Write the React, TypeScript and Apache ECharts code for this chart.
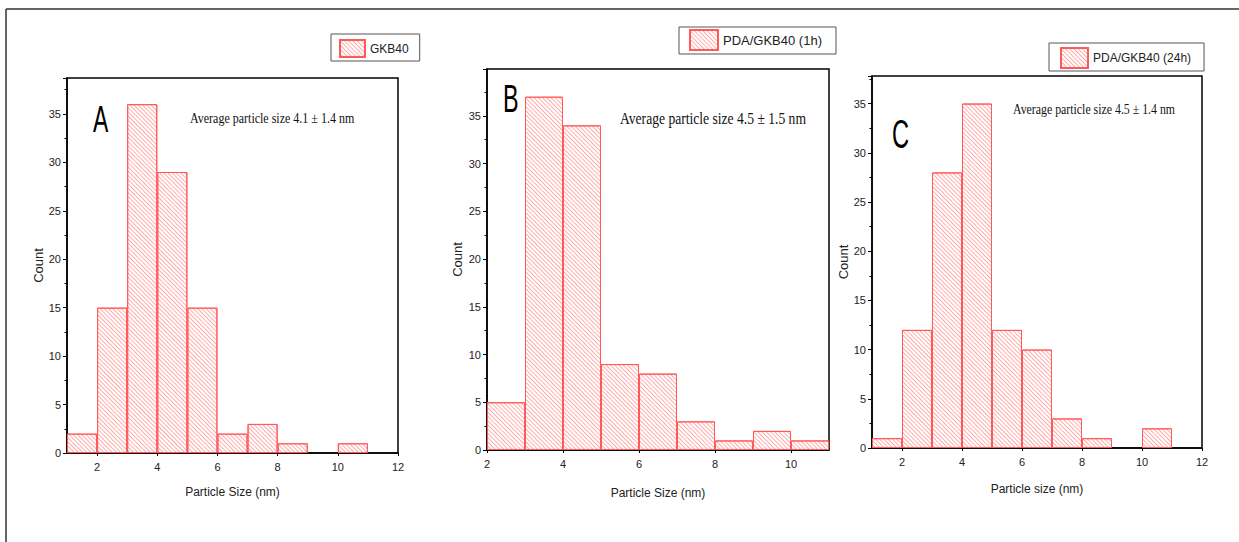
import React, { useEffect, useRef } from "react";
import * as echarts from "echarts";

// ---- data ----
const binsA = ["1-2", "2-3", "3-4", "4-5", "5-6", "6-7", "7-8", "8-9", "9-10", "10-11", "11-12"];
const countsA: (number | string)[] = [2, 15, 36, 29, 15, 2, 3, 1, "-", 1, "-"];
const binsB = ["2-3", "3-4", "4-5", "5-6", "6-7", "7-8", "8-9", "9-10", "10-11"];
const countsB: (number | string)[] = [5, 37, 34, 9, 8, 3, 1, 2, 1];
const binsC = ["1-2", "2-3", "3-4", "4-5", "5-6", "6-7", "7-8", "8-9", "9-10", "10-11", "11-12"];
const countsC: (number | string)[] = [1, 12, 28, 35, 12, 10, 3, 1, "-", 2, "-"];

const xTicksA = [2, 4, 6, 8, 10, 12];
const xTicksB = [2, 4, 6, 8, 10];
const xTicksC = [2, 4, 6, 8, 10, 12];
const xRangeA = [1, 12];
const xRangeB = [2, 11];
const xRangeC = [1, 12];
const yMaxA = 38.7;
const yMaxB = 39.9;
const yMaxC = 37.8;

const seriesNames = ["GKB40", "PDA/GKB40 (1h)", "PDA/GKB40 (24h)"];
const notes = [
  "Average particle size 4.1 ± 1.4 nm",
  "Average particle size 4.5 ± 1.5 nm",
  "Average particle size 4.5 ± 1.4 nm",
];
const letters = ["A", "B", "C"];
const xNames = ["Particle Size (nm)", "Particle Size (nm)", "Particle size (nm)"];
const yName = "Count";

// ---- layout ----
const panels = [
  {
    bins: binsA, counts: countsA, xTicks: xTicksA, xRange: xRangeA, yMax: yMaxA,
    grid: { left: 67, top: 78, width: 331, height: 375 },
    legend: { left: 331, top: 34, padding: [5, 11, 3, 8], itemWidth: 25, itemHeight: 17, fontSize: 12 },
    letter: { x: 93, y: 119, size: 37, sx: 0.62 },
    note: { x: 190, y: 118, size: 15, sx: 0.8 },
    xNameGap: 33, yNameGap: 21,
  },
  {
    bins: binsB, counts: countsB, xTicks: xTicksB, xRange: xRangeB, yMax: yMaxB,
    grid: { left: 487, top: 69, width: 342, height: 381 },
    legend: { left: 679, top: 27, padding: [2, 14, 3, 10], itemWidth: 28, itemHeight: 20, fontSize: 13 },
    letter: { x: 503, y: 99, size: 39, sx: 0.6 },
    note: { x: 620, y: 119, size: 16, sx: 0.85 },
    xNameGap: 37, yNameGap: 23,
  },
  {
    bins: binsC, counts: countsC, xTicks: xTicksC, xRange: xRangeC, yMax: yMaxC,
    grid: { left: 872, top: 76, width: 330, height: 372 },
    legend: { left: 1049, top: 43, padding: [4, 13, 2, 11], itemWidth: 27, itemHeight: 20, fontSize: 12 },
    letter: { x: 892, y: 134, size: 40, sx: 0.59 },
    note: { x: 1013, y: 109, size: 15, sx: 0.79 },
    xNameGap: 35, yNameGap: 22,
  },
];

const SANS = "Liberation Sans, Arial, sans-serif";
const SERIF = "Liberation Serif, Times New Roman, serif";
const RED = "#ff5a5a";

const decal = {
  symbol: "rect",
  symbolSize: 1,
  symbolKeepAspect: false,
  color: "rgba(255,90,90,0.5)",
  backgroundColor: "transparent",
  dashArrayX: [1, 0],
  dashArrayY: [1, 2],
  rotation: Math.PI / 4,
};

function buildOption() {
  const grid: any[] = [];
  const xAxis: any[] = [];
  const yAxis: any[] = [];
  const series: any[] = [];
  const legend: any[] = [];
  const graphic: any[] = [];

  panels.forEach((p, i) => {
    grid.push({
      ...p.grid,
      show: true,
      borderColor: "#000",
      borderWidth: 1.5,
      backgroundColor: "transparent",
    });
    xAxis.push({
      type: "category",
      gridIndex: i,
      data: p.bins,
      show: false,
      boundaryGap: true,
    });
    xAxis.push({
      type: "value",
      gridIndex: i,
      min: p.xRange[0],
      max: p.xRange[1],
      position: "bottom",
      axisLine: { show: true, onZero: false, lineStyle: { color: "#000", width: 1.5 } },
      axisTick: { show: true, inside: false, length: 3, customValues: p.xTicks, lineStyle: { color: "#000" } },
      axisLabel: { show: true, customValues: p.xTicks, fontSize: 11, margin: 8, color: "#222", fontFamily: SANS },
      splitLine: { show: false },
      name: xNames[i],
      nameLocation: "middle",
      nameGap: p.xNameGap,
      nameTextStyle: { fontSize: 12, color: "#222", fontFamily: SANS },
    });
    yAxis.push({
      type: "value",
      gridIndex: i,
      min: 0,
      max: p.yMax,
      interval: 5,
      axisLine: { show: true, lineStyle: { color: "#000", width: 1.5 } },
      axisTick: { show: true, inside: false, length: 4, lineStyle: { color: "#000" } },
      minorTick: { show: true, splitNumber: 2, length: 2.5, lineStyle: { color: "#000" } },
      axisLabel: { fontSize: 11, margin: 6, color: "#222", fontFamily: SANS, showMaxLabel: false },
      splitLine: { show: false },
      name: yName,
      nameLocation: "middle",
      nameGap: p.yNameGap,
      nameRotate: 90,
      nameTextStyle: { fontSize: 13, color: "#222", fontFamily: SANS },
    });
    series.push({
      type: "bar",
      name: seriesNames[i],
      xAxisIndex: i * 2,
      yAxisIndex: i,
      data: p.counts,
      barCategoryGap: "0%",
      barGap: "0%",
      itemStyle: { color: "#ffffff", borderColor: RED, borderWidth: 1, decal },
      emphasis: { disabled: true },
    });
    legend.push({
      data: [seriesNames[i]],
      left: p.legend.left,
      top: p.legend.top,
      padding: p.legend.padding,
      itemWidth: p.legend.itemWidth,
      itemHeight: p.legend.itemHeight,
      icon: "rect",
      borderColor: "#555",
      borderWidth: 1,
      borderRadius: 0,
      selectedMode: false,
      textStyle: { fontSize: p.legend.fontSize, color: "#222", fontFamily: SANS },
    });
    graphic.push({
      type: "text",
      x: p.letter.x,
      y: p.letter.y,
      scaleX: p.letter.sx,
      style: {
        text: letters[i],
        fontSize: p.letter.size,
        fontFamily: SANS,
        fill: "#000",
        verticalAlign: "middle",
        align: "left",
      },
    });
    graphic.push({
      type: "text",
      x: p.note.x,
      y: p.note.y,
      scaleX: p.note.sx,
      style: {
        text: notes[i],
        fontSize: p.note.size,
        fontFamily: SERIF,
        fill: "#111",
        verticalAlign: "middle",
        align: "left",
      },
    });
  });

  graphic.push({
    type: "line",
    shape: { x1: 6, y1: 9, x2: 1239, y2: 9 },
    style: { stroke: "#333", lineWidth: 1.5 },
  });
  graphic.push({
    type: "line",
    shape: { x1: 6, y1: 9, x2: 6, y2: 542 },
    style: { stroke: "#333", lineWidth: 1.5 },
  });

  return {
    animation: false,
    backgroundColor: "#fff",
    grid,
    xAxis,
    yAxis,
    series,
    legend,
    graphic,
  };
}

export default function App() {
  const ref = useRef<HTMLDivElement>(null);
  useEffect(() => {
    if (!ref.current) return;
    const chart = echarts.init(ref.current, undefined, { renderer: "svg" });
    chart.setOption(buildOption() as any);
    return () => chart.dispose();
  }, []);
  return (
    <div
      ref={ref}
      style={{ position: "absolute", left: 0, top: 0, width: 1239, height: 542 }}
    />
  );
}
